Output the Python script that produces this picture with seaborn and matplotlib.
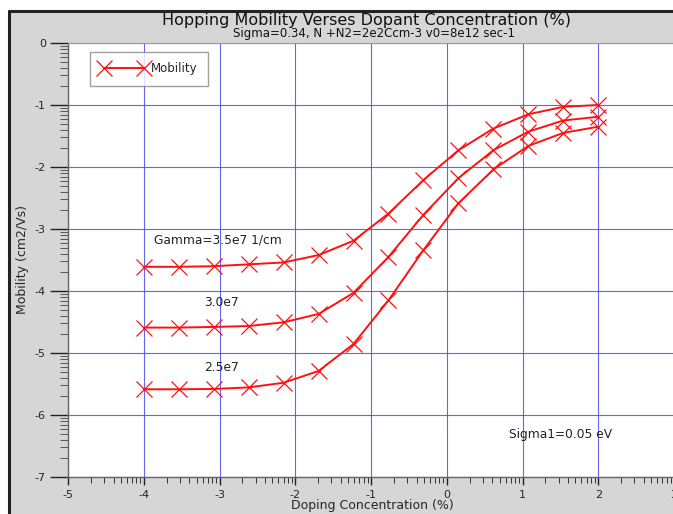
import numpy as np
import pandas as pd
import matplotlib
matplotlib.use("Agg")
import matplotlib.pyplot as plt
from matplotlib.lines import Line2D
from matplotlib.patches import Rectangle
from matplotlib.ticker import FixedLocator
import seaborn as sns

# ---- data ----
doping = [-4.0, -3.538, -3.077, -2.615, -2.154, -1.692, -1.231, -0.769, -0.308, 0.154, 0.615, 1.077, 1.538, 2.0]
mob_35e7 = [-3.61, -3.61, -3.60, -3.57, -3.54, -3.42, -3.19, -2.75, -2.21, -1.73, -1.38, -1.15, -1.03, -1.00]
mob_30e7 = [-4.59, -4.59, -4.58, -4.565, -4.505, -4.37, -4.03, -3.45, -2.77, -2.18, -1.73, -1.43, -1.25, -1.19]
mob_25e7 = [-5.585, -5.585, -5.58, -5.555, -5.48, -5.29, -4.855, -4.15, -3.34, -2.585, -2.04, -1.66, -1.45, -1.35]
series_names = ["Gamma=3.5e7 1/cm", "3.0e7", "2.5e7"]
x_ticks = [-5, -4, -3, -2, -1, 0, 1, 2, 3]
y_ticks = [0, -1, -2, -3, -4, -5, -6, -7]

sns.set_theme(style="white")
plt.rcParams['font.family'] = ['DejaVu Sans']

fig = plt.figure(figsize=(6.73, 5.14), dpi=100)
fig.patch.set_facecolor("white")
# gray panel with dark border on top and left
fig.patches.append(Rectangle((9/673, 0), 1.0, 1 - 11/514, transform=fig.transFigure,
                             facecolor="#d6d6d6", edgecolor="none", zorder=-10))
fig.lines.append(Line2D([9/673, 1.0], [1 - 11/514, 1 - 11/514], transform=fig.transFigure,
                        color="#222222", lw=2.2, zorder=-5))
fig.lines.append(Line2D([9/673, 9/673], [0, 1 - 11/514], transform=fig.transFigure,
                        color="#222222", lw=2.2, zorder=-5))

ax = fig.add_axes([68/673, 37/514, 606/673, 434/514])
ax.set_zorder(1)
ax.set_facecolor("white")

red = "#ff1010"
for i, (vals, name) in enumerate(zip([mob_35e7, mob_30e7, mob_25e7], series_names)):
    df = pd.DataFrame({"x": doping, "y": vals})
    sns.lineplot(data=df, x="x", y="y", ax=ax, color=red, lw=1.4,
                 marker="x", markersize=12, markeredgewidth=0.9, markeredgecolor=red,
                 label="Mobility" if i == 0 else None, legend=False, sort=False, zorder=3)

ax.set_xlim(-5, 3)
ax.set_ylim(-7, 0)
ax.set_xticks(x_ticks)
ax.set_yticks(y_ticks)
ax.set_xticklabels([str(t) for t in x_ticks], fontsize=8)
ax.set_yticklabels([str(t) for t in y_ticks], fontsize=8)

# log-style minor ticks
xminor = [d + np.log10(k) for d in range(-5, 3) for k in range(2, 10)]
yminor = [d + np.log10(k) for d in range(-7, 0) for k in range(2, 10)]
ax.xaxis.set_minor_locator(FixedLocator(xminor))
ax.yaxis.set_minor_locator(FixedLocator(yminor))
ax.tick_params(axis="x", which="major", direction="out", length=6, width=1, color="#222222", pad=3)
ax.tick_params(axis="x", which="minor", direction="out", length=4, width=0.7, color="#333333")
ax.tick_params(axis="y", which="major", direction="out", length=13, width=1, color="#222222", pad=3)
ax.tick_params(axis="y", which="minor", direction="out", length=6, width=0.7, color="#555555")
ax.tick_params(axis="both", which="both", bottom=True, left=True)

ax.grid(True, which="major", color="#4a4af0", lw=0.8, alpha=0.85)
for s in ["top", "right"]:
    ax.spines[s].set_visible(True)
    ax.spines[s].set_color("#999999")
    ax.spines[s].set_linewidth(0.8)
for s in ["left", "bottom"]:
    ax.spines[s].set_color("#666666")
    ax.spines[s].set_linewidth(1.0)

ax.set_xlabel("Doping Concentration (%)", fontsize=9)
ax.set_ylabel("Mobility (cm2/Vs)", fontsize=9)
ax.xaxis.set_label_coords((372 - 68) / 606, (477 - 506) / 434)
ax.xaxis.label.set_va("center")
ax.yaxis.set_label_coords((23 - 68) / 606, 0.5)
ax.yaxis.label.set_va("center")

# annotations
ax.text(-3.87, -3.18, series_names[0], fontsize=8.8, va="center", ha="left", color="#222222")
ax.text(-2.97, -4.18, series_names[1], fontsize=8.8, va="center", ha="center", color="#222222")
ax.text(-2.97, -5.24, series_names[2], fontsize=8.8, va="center", ha="center", color="#222222")
ax.text(0.82, -6.31, "Sigma1=0.05 eV", fontsize=8.8, va="center", ha="left", color="#222222")

leg = ax.legend(loc="upper left", bbox_to_anchor=(0.036, 0.98), numpoints=2, handlelength=4.0,
                fontsize=8.5, frameon=True, fancybox=False, borderpad=0.9, handletextpad=0.3,
                borderaxespad=0)
leg.get_frame().set_edgecolor("#888888")
leg.get_frame().set_linewidth(1.0)

fig.text(367/673, 1 - 21/514, "Hopping Mobility Verses Dopant Concentration (%)",
         ha="center", va="center", fontsize=11.5, color="#111111")
fig.text(374/673, 1 - 34/514, "Sigma=0.34, N +N2=2e2Ccm-3 v0=8e12 sec-1",
         ha="center", va="center", fontsize=8.5, color="#111111")

fig.savefig("out.png", dpi=100, facecolor=fig.get_facecolor())
